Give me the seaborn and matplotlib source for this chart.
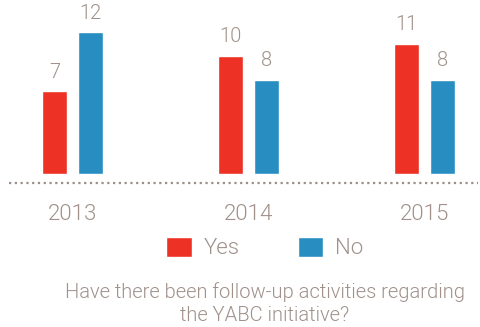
import matplotlib
matplotlib.use("Agg")
import matplotlib.pyplot as plt
import seaborn as sns
import pandas as pd

years = ["2013", "2014", "2015"]
answers = ["Yes", "No"]
yes_counts = [7, 10, 11]
no_counts = [12, 8, 8]
caption = "Have there been follow-up activities regarding\nthe YABC initiative?"

RED = "#EE3125"
BLUE = "#288DC1"
TEXT = "#A0918A"

df = pd.DataFrame({
    "year": years * 2,
    "answer": ["Yes"] * 3 + ["No"] * 3,
    "count": yes_counts + no_counts,
})

sns.set_theme(style="white")
plt.rcParams["font.family"] = ["Roboto", "DejaVu Sans"]
plt.rcParams["font.weight"] = 300

W, H = 480, 327
fig = plt.figure(figsize=(W / 100, H / 100), dpi=100)
# axes spans x 9..478 px, y 0..190 px from the top
ax = fig.add_axes([9 / W, (H - 190) / H, 469 / W, 190 / H])

sns.barplot(data=df, x="year", y="count", hue="answer", hue_order=answers,
            palette=[RED, BLUE], width=0.41, gap=0.3, saturation=1,
            ax=ax)

for cont in ax.containers:
    ax.bar_label(cont, padding=7, fontsize=14.5, color=TEXT, fontweight=300)

px_per_unit = 11.8
ax.set_ylim(-16 / px_per_unit, 174 / px_per_unit)
ax.set_xlim(-0.361, 2.304)
ax.axhline(-8.7 / px_per_unit, color="#9C8E88", linestyle=(0, (1, 1.6)),
           linewidth=1.6)

handles, labels = ax.get_legend_handles_labels()
ax.get_legend().remove()

for s in ax.spines.values():
    s.set_visible(False)
ax.set_xlabel("")
ax.set_ylabel("")
ax.set_yticks([])
ax.tick_params(axis="x", length=0, pad=10, labelsize=16, labelcolor=TEXT)

fig.legend(handles, labels, loc="center", bbox_to_anchor=(265 / W, 1 - 248 / H),
           ncol=2, frameon=False, fontsize=16, labelcolor=TEXT,
           handlelength=1.14, handleheight=1.0, handletextpad=0.55,
           columnspacing=2.6, borderpad=0)

fig.text(265 / W, 1 - 282 / H, caption, ha="center", va="top",
         fontsize=14.5, color=TEXT, fontweight=300, linespacing=1.25)

fig.savefig("out.png", dpi=100)
